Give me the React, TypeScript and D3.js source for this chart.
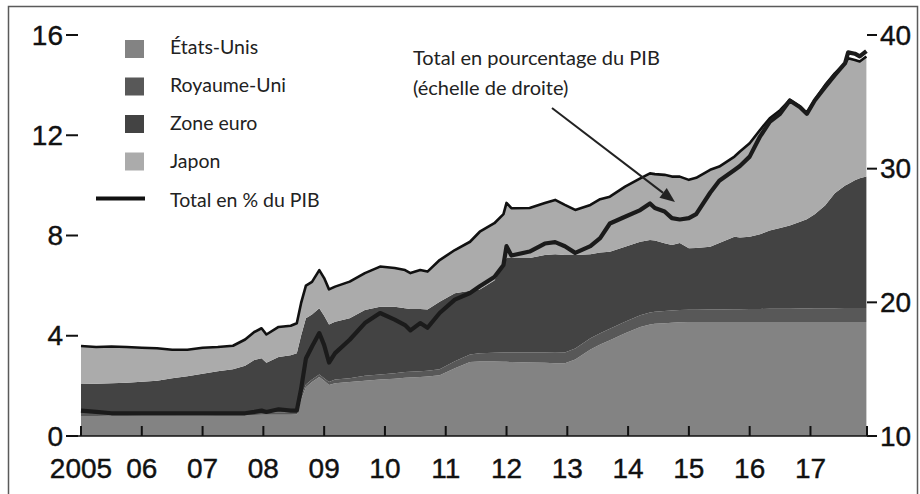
import React from 'react';
import * as d3 from 'd3';

// Decimal dates (years)
const dates = [
  2005.00, 2005.25, 2005.50, 2005.75, 2006.00, 2006.25, 2006.50, 2006.75,
  2007.00, 2007.25, 2007.50, 2007.70, 2007.85, 2007.97, 2008.05, 2008.25,
  2008.45, 2008.55, 2008.62, 2008.70, 2008.80, 2008.92, 2009.00, 2009.08,
  2009.18, 2009.42, 2009.67, 2009.92, 2010.16, 2010.33, 2010.42, 2010.58,
  2010.70, 2010.90, 2011.15, 2011.40, 2011.56, 2011.80, 2011.95, 2012.00,
  2012.08, 2012.38, 2012.63, 2012.80, 2012.96, 2013.13, 2013.38, 2013.54,
  2013.70, 2013.95, 2014.20, 2014.36, 2014.44, 2014.60, 2014.72, 2014.85,
  2015.00, 2015.12, 2015.35, 2015.50, 2015.75, 2015.84, 2016.00, 2016.17,
  2016.33, 2016.50, 2016.66, 2016.83, 2016.94, 2017.07, 2017.24, 2017.40,
  2017.57, 2017.62, 2017.73, 2017.81, 2017.92,
];

// Trillions of USD
const etatsUnis = [
  0.80, 0.80, 0.81, 0.81, 0.82, 0.82, 0.82, 0.83,
  0.83, 0.84, 0.84, 0.84, 0.84, 0.85, 0.85, 0.85,
  0.85, 0.86, 1.45, 1.95, 2.15, 2.35, 2.20, 2.03,
  2.10, 2.15, 2.20, 2.25, 2.28, 2.32, 2.33, 2.35,
  2.37, 2.42, 2.70, 2.95, 2.97, 2.97, 2.96, 2.96,
  2.95, 2.93, 2.92, 2.90, 2.90, 3.05, 3.45, 3.65,
  3.82, 4.10, 4.35, 4.45, 4.48, 4.50, 4.52, 4.54,
  4.55, 4.55, 4.55, 4.55, 4.55, 4.55, 4.55, 4.55,
  4.55, 4.55, 4.55, 4.55, 4.55, 4.55, 4.55, 4.55,
  4.55, 4.55, 4.55, 4.55, 4.55,
];
const royaumeUni = [
  0.12, 0.12, 0.11, 0.11, 0.11, 0.11, 0.11, 0.11,
  0.12, 0.11, 0.11, 0.11, 0.11, 0.11, 0.10, 0.10,
  0.10, 0.10, 0.15, 0.10, 0.10, 0.10, 0.10, 0.12,
  0.15, 0.15, 0.20, 0.20, 0.22, 0.23, 0.23, 0.23,
  0.23, 0.24, 0.28, 0.30, 0.33, 0.35, 0.37, 0.37,
  0.38, 0.40, 0.41, 0.42, 0.43, 0.44, 0.45, 0.45,
  0.46, 0.46, 0.47, 0.48, 0.48, 0.49, 0.49, 0.49,
  0.49, 0.49, 0.50, 0.50, 0.51, 0.51, 0.52, 0.52,
  0.53, 0.53, 0.53, 0.54, 0.54, 0.55, 0.55, 0.55,
  0.56, 0.56, 0.56, 0.56, 0.56,
];
const zoneEuro = [
  1.15, 1.16, 1.18, 1.20, 1.23, 1.27, 1.37, 1.44,
  1.53, 1.63, 1.71, 1.85, 2.08, 2.14, 1.97, 2.20,
  2.27, 2.34, 2.40, 2.65, 2.60, 2.65, 2.50, 2.30,
  2.31, 2.40, 2.63, 2.71, 2.66, 2.55, 2.51, 2.49,
  2.45, 2.70, 2.72, 2.55, 2.55, 2.88, 3.47, 3.77,
  3.77, 3.77, 3.89, 3.93, 3.89, 3.73, 3.35, 3.22,
  3.07, 2.99, 2.93, 2.89, 2.84, 2.70, 2.61, 2.67,
  2.45, 2.46, 2.50, 2.65, 2.89, 2.86, 2.88, 2.98,
  3.12, 3.22, 3.32, 3.46, 3.56, 3.75, 4.10, 4.59,
  4.89, 4.94, 5.09, 5.17, 5.24,
];
const japon = [
  1.52, 1.47, 1.47, 1.43, 1.36, 1.30, 1.14, 1.06,
  1.04, 0.97, 0.94, 1.05, 1.12, 1.20, 1.13, 1.20,
  1.18, 1.20, 1.30, 1.30, 1.30, 1.52, 1.50, 1.40,
  1.40, 1.46, 1.47, 1.60, 1.54, 1.52, 1.43, 1.55,
  1.51, 1.66, 1.72, 1.95, 2.30, 2.29, 2.05, 2.20,
  1.99, 2.00, 2.08, 2.17, 2.00, 1.80, 1.97, 2.13,
  2.20, 2.40, 2.53, 2.66, 2.65, 2.73, 2.73, 2.65,
  2.73, 2.80, 3.07, 3.05, 3.20, 3.43, 3.73, 4.16,
  4.48, 4.70, 5.01, 4.59, 4.23, 4.56, 4.80, 4.78,
  4.87, 5.02, 4.80, 4.66, 4.79,
];
// Total in % of GDP (right scale)
const totalPctPIB = [
  11.9, 11.8, 11.7, 11.7, 11.7, 11.7, 11.7, 11.7,
  11.7, 11.7, 11.7, 11.7, 11.8, 11.9, 11.8, 12.0,
  11.9, 11.9, 13.5, 15.8, 16.7, 17.7, 16.8, 15.5,
  16.2, 17.2, 18.45, 19.2, 18.7, 18.3, 17.9, 18.45,
  18.1, 19.2, 20.2, 20.7, 21.2, 21.9, 22.8, 24.2,
  23.5, 23.8, 24.4, 24.5, 24.2, 23.7, 24.2, 24.8,
  25.9, 26.4, 26.9, 27.4, 27.05, 26.8, 26.3, 26.2,
  26.3, 26.6, 28.2, 29.1, 29.9, 30.2, 30.9, 32.4,
  33.5, 34.1, 35.1, 34.6, 34.1, 35.1, 36.1, 37.0,
  37.9, 38.7, 38.6, 38.4, 38.8,
];

const seriesKeys = ['us', 'uk', 'ez', 'jp'];
const seriesNames = ['États-Unis', 'Royaume-Uni', 'Zone euro', 'Japon'];
const seriesColors = ['#838383', '#585858', '#434343', '#ababab'];
const lineLegendLabel = 'Total en % du PIB';
const annotationLines = ['Total en pourcentage du PIB', '(échelle de droite)'];

const leftTicks = [0, 4, 8, 12, 16];
const rightTicks = [10, 20, 30, 40];
const yearTicks = [2005, 2006, 2007, 2008, 2009, 2010, 2011, 2012, 2013, 2014, 2015, 2016, 2017];
const yearLabels = ['2005', '06', '07', '08', '09', '10', '11', '12', '13', '14', '15', '16', '17'];

const W = 920;
const H = 494;
const plot = { left: 81, right: 867, top: 35, bottom: 436 };
const axisFont = "'Liberation Sans Narrow', 'Liberation Sans', Arial, sans-serif";
const textFont = "Lato, 'Open Sans', sans-serif";

export default function App() {
  const rows = dates.map((d, i) => ({
    date: d,
    us: etatsUnis[i],
    uk: royaumeUni[i],
    ez: zoneEuro[i],
    jp: japon[i],
    pct: totalPctPIB[i],
  }));

  const x = d3.scaleLinear().domain([2005, 2017.93]).range([plot.left, plot.right]);
  const yL = d3.scaleLinear().domain([0, 16]).range([plot.bottom, plot.top]);
  const yR = d3.scaleLinear().domain([10, 40]).range([plot.bottom, plot.top]);

  const stacked = d3.stack<any>().keys(seriesKeys)(rows);

  const area = d3
    .area<any>()
    .x((d) => x(d.data.date))
    .y0((d) => yL(d[0]))
    .y1((d) => yL(d[1]));

  const topLine = d3
    .line<any>()
    .x((d) => x(d.data.date))
    .y((d) => yL(d[1]));

  const pctLine = d3
    .line<any>()
    .x((d) => x(d.date))
    .y((d) => yR(d.pct));

  const top = stacked[stacked.length - 1];

  // arrow geometry
  const ax1 = 552, ay1 = 108, ax2 = 675, ay2 = 202;
  const ang = Math.atan2(ay2 - ay1, ax2 - ax1);
  const hl = 15, hw = 6;
  const bx = ax2 - hl * Math.cos(ang);
  const by = ay2 - hl * Math.sin(ang);
  const head = [
    [ax2, ay2],
    [bx + hw * Math.sin(ang), by - hw * Math.cos(ang)],
    [bx - hw * Math.sin(ang), by + hw * Math.cos(ang)],
  ];

  return (
    <svg
      width={W}
      height={H}
      style={{ position: 'absolute', left: 0, top: 0, background: '#fff' }}
    >
      <rect x={0} y={0} width={W} height={H} fill="#fff" />
      {/* frame */}
      <path d={`M8.5,${H} L8.5,6.5 L917.5,6.5 L917.5,${H}`} fill="none" stroke="#5a5a5a" strokeWidth={1.5} />

      {/* stacked areas */}
      {stacked.map((s, i) => (
        <path key={s.key} d={area(s) || ''} fill={seriesColors[i]} stroke="none" />
      ))}

      {/* total outline */}
      <path d={topLine(top) || ''} fill="none" stroke="#111" strokeWidth={2.6} strokeLinejoin="round" />

      {/* % of GDP line */}
      <path d={pctLine(rows) || ''} fill="none" stroke="#1b1b1b" strokeWidth={4.2} strokeLinejoin="round" />

      {/* x axis */}
      <line x1={plot.left - 14} x2={plot.right + 10} y1={plot.bottom} y2={plot.bottom} stroke="#111" strokeWidth={1.6} />
      {yearTicks.map((t, i) => (
        <g key={t}>
          <line x1={x(t)} x2={x(t)} y1={plot.bottom} y2={plot.bottom - 10} stroke="#111" strokeWidth={2} />
          <text
            x={x(t)}
            y={478}
            textAnchor="middle"
            fontFamily={axisFont}
            fontSize={28}
            fill="#111"
            stroke="#111"
            strokeWidth={0.4}
          >
            {yearLabels[i]}
          </text>
        </g>
      ))}
      <line x1={plot.right} x2={plot.right} y1={plot.bottom} y2={plot.bottom - 10} stroke="#111" strokeWidth={2} />

      {/* left axis */}
      {leftTicks.map((t) => (
        <g key={'l' + t}>
          <line x1={66} x2={78} y1={yL(t)} y2={yL(t)} stroke="#111" strokeWidth={2} />
          <text x={63} y={yL(t) + 9.5} textAnchor="end" fontFamily={axisFont} fontSize={28} fill="#111" stroke="#111" strokeWidth={0.4}>
            {t}
          </text>
        </g>
      ))}

      {/* right axis */}
      {rightTicks.map((t) => (
        <g key={'r' + t}>
          <line x1={plot.right} x2={plot.right + 10} y1={yR(t)} y2={yR(t)} stroke="#111" strokeWidth={2} />
          <text x={880} y={yR(t) + 9.5} textAnchor="start" fontFamily={axisFont} fontSize={28} fill="#111" stroke="#111" strokeWidth={0.4}>
            {t}
          </text>
        </g>
      ))}

      {/* legend */}
      {seriesNames.map((n, i) => (
        <g key={n}>
          <rect x={125} y={40 + i * 37.5} width={19} height={18} fill={seriesColors[i]} />
          <text x={170} y={54 + i * 38} fontFamily={textFont} fontSize={19.5} fill="#222">
            {n}
          </text>
        </g>
      ))}
      <line x1={96} x2={145} y1={198.5} y2={198.5} stroke="#111" strokeWidth={4.2} />
      <text x={170} y={206.5} fontFamily={textFont} fontSize={19.5} fill="#222">
        {lineLegendLabel}
      </text>

      {/* annotation */}
      {annotationLines.map((l, i) => (
        <text key={l} x={413} y={65 + i * 30} fontFamily={textFont} fontSize={20} fill="#222">
          {l}
        </text>
      ))}
      <line x1={ax1} y1={ay1} x2={bx} y2={by} stroke="#222" strokeWidth={2} />
      <polygon points={head.map((p) => p.join(',')).join(' ')} fill="#222" />
    </svg>
  );
}
